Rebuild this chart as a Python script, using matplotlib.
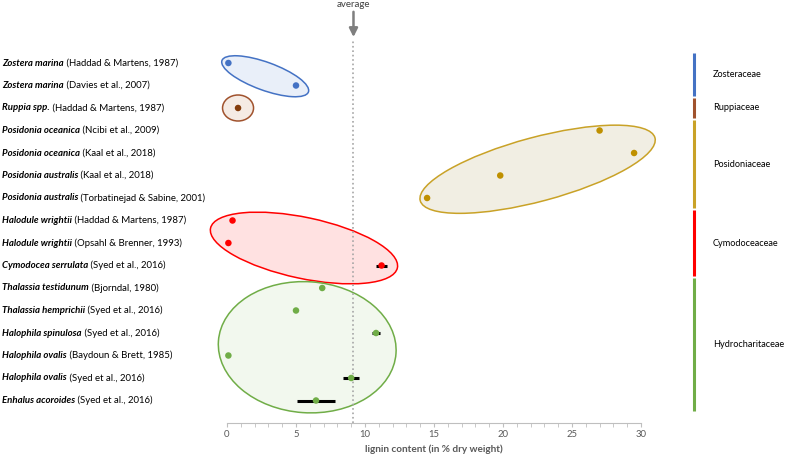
import numpy as np
import matplotlib.pyplot as plt
import matplotlib.transforms as mtransforms
from matplotlib.patches import Ellipse

plt.rcParams['font.family'] = ['Lato', 'DejaVu Sans']

# data
species = ['Zostera marina', 'Zostera marina', 'Ruppia spp.', 'Posidonia oceanica',
           'Posidonia oceanica', 'Posidonia australis', 'Posidonia australis',
           'Halodule wrightii', 'Halodule wrightii', 'Cymodocea serrulata',
           'Thalassia testidunum', 'Thalassia hemprichii', 'Halophila spinulosa',
           'Halophila ovalis', 'Halophila ovalis', 'Enhalus acoroides']
refs = ['(Haddad & Martens, 1987)', '(Davies et al., 2007)', '(Haddad & Martens, 1987)',
        '(Ncibi et al., 2009)', '(Kaal et al., 2018)', '(Kaal et al., 2018)',
        '(Torbatinejad & Sabine, 2001)', '(Haddad & Martens, 1987)', '(Opsahl & Brenner, 1993)',
        '(Syed et al., 2016)', '(Bjorndal, 1980)', '(Syed et al., 2016)', '(Syed et al., 2016)',
        '(Baydoun & Brett, 1985)', '(Syed et al., 2016)', '(Syed et al., 2016)']
lignin = [0.1, 5.0, 0.8, 27.0, 29.5, 19.8, 14.5, 0.4, 0.1, 11.2, 6.9, 5.0, 10.8, 0.1, 9.0, 6.45]
lignin_err = [0, 0, 0, 0, 0, 0, 0, 0, 0, 0.4, 0, 0, 0.3, 0, 0.6, 1.35]

families = ['Zosteraceae', 'Ruppiaceae', 'Posidoniaceae', 'Cymodoceaceae', 'Hydrocharitaceae']
family_rows = [(1, 2), (3, 3), (4, 7), (8, 10), (11, 16)]

# styles
line_col = ['#4472C4', '#A0522D', '#C9A227', '#FF0000', '#70AD47']
dot_col = ['#4472C4', '#843C0C', '#BF9000', '#FF0000', '#70AD47']
fill_col = ['#E9EFF9', '#F5EBE4', '#F1EEE3', '#FFE1E1', '#F2F8EE']
# ellipse width, height (px), angle (deg), centre offset (px)
ell_style = [(92, 28, -20, 3, 2), (31, 26, 0, 0, 0), (243, 64, 15, 7, 5),
             (191, 61, -12, -1, 5), (178, 131, -4, 5, 3)]

rows = np.arange(1, len(species) + 1)
lignin = np.array(lignin)
lignin_err = np.array(lignin_err)
avg = lignin.mean()

fig = plt.figure(figsize=(7.87, 4.55), dpi=100)
ax = fig.add_axes([227 / 787, 32 / 455, 414 / 787, 382.5 / 455])
ax.set_xlim(0, 30)
ax.set_ylim(17, 0)

for sp in ['left', 'right', 'top']:
    ax.spines[sp].set_visible(False)
ax.spines['bottom'].set_color('#BFBFBF')
ax.set_yticks([])
ax.set_xticks(np.arange(0, 31, 5))
ax.set_xticks(np.arange(0, 31, 1), minor=True)
ax.tick_params(axis='x', which='both', colors='#BFBFBF', length=3, labelcolor='#595959',
               labelsize=6.8, pad=2)
ax.set_xlabel('lignin content (in % dry weight)', fontsize=7.2, fontweight='bold',
              color='#595959', labelpad=4)

# group ellipses
for i, (r0, r1) in enumerate(family_rows):
    vals = lignin[r0 - 1:r1]
    cx = (vals.min() + vals.max()) / 2
    cy = (r0 + r1) / 2
    w, h, ang, dx, dy = ell_style[i]
    trans = fig.dpi_scale_trans + mtransforms.ScaledTranslation(cx, cy, ax.transData)
    ax.add_patch(Ellipse((dx / 100, -dy / 100), w / 100, h / 100, angle=ang, transform=trans,
                         facecolor=fill_col[i], edgecolor=line_col[i], lw=1.1, zorder=1,
                         clip_on=False))

# average line and arrow
ax.axvline(avg, color='#A6A6A6', ls=':', lw=1.2, zorder=2)
ax.annotate('', xy=(avg, 1.009), xycoords=('data', 'axes fraction'), xytext=(avg, 1.075),
            textcoords=('data', 'axes fraction'), annotation_clip=False,
            arrowprops=dict(arrowstyle='-|>,head_length=0.5,head_width=0.25', color='#7F7F7F',
                            lw=1.8, shrinkA=0, shrinkB=0))
ax.text(avg, 1.082, 'average', transform=ax.get_xaxis_transform(), ha='center', va='bottom',
        fontsize=7, color='#404040')

# error bars and points
point_col = []
for i, (r0, r1) in enumerate(family_rows):
    point_col += [dot_col[i]] * (r1 - r0 + 1)
has_err = lignin_err > 0
ax.errorbar(lignin[has_err], rows[has_err], xerr=lignin_err[has_err], fmt='none',
            ecolor='black', elinewidth=2.2, capsize=0, zorder=3, clip_on=False)
ax.scatter(lignin, rows, c=point_col, s=22, zorder=4, linewidths=0, clip_on=False)

# row labels
ytrans = ax.get_yaxis_transform()
for r, sp, ref in zip(rows, species, refs):
    t = ax.text(-225 / 414, r, sp, transform=ytrans, ha='left', va='center', fontsize=6.9,
                fontweight='bold', fontstyle='italic', color='black')
    ax.annotate(' ' + ref, xy=(1, 0.5), xycoords=t, ha='left', va='center', fontsize=6.9,
                color='black')

# family legend on the right
for i, (r0, r1) in enumerate(family_rows):
    ax.plot([467 / 414, 467 / 414], [r0 - 0.45, r1 + 0.45], transform=ytrans, color=line_col[i],
            lw=2.2, clip_on=False, solid_capstyle='butt')
    ax.text(486 / 414, (r0 + r1) / 2, families[i], transform=ytrans, ha='left', va='center',
            fontsize=6.6, color='black')

fig.savefig('out.png', dpi=100)
